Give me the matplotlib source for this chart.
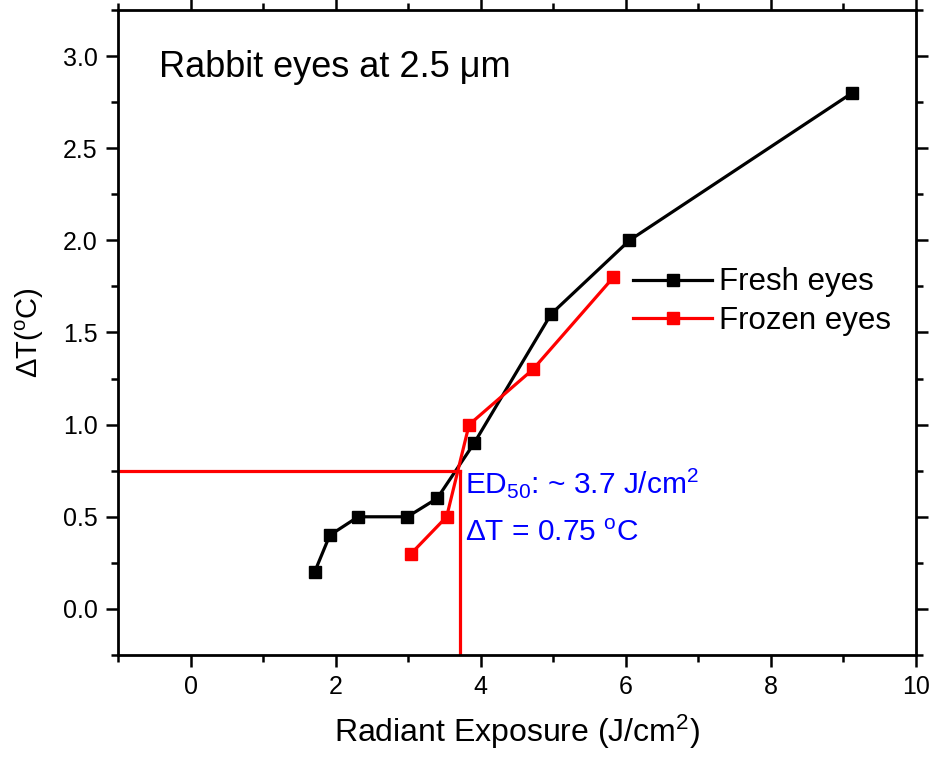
import matplotlib
matplotlib.use("Agg")
import matplotlib.pyplot as plt
from matplotlib.ticker import MultipleLocator

plt.rcParams['font.family'] = ['Liberation Sans', 'DejaVu Sans']
plt.rcParams['mathtext.fontset'] = 'custom'
plt.rcParams['mathtext.rm'] = 'Liberation Sans'
plt.rcParams['mathtext.it'] = 'Liberation Sans'

# data
fresh_x = [1.71, 1.92, 2.31, 2.99, 3.40, 3.91, 4.97, 6.05, 9.12]
fresh_y = [0.2, 0.4, 0.5, 0.5, 0.6, 0.9, 1.6, 2.0, 2.8]
frozen_x = [3.04, 3.53, 3.84, 4.72, 5.83]
frozen_y = [0.3, 0.5, 1.0, 1.3, 1.8]
ed50_x = 3.72
ed50_y = 0.75

fig = plt.figure(figsize=(9.32, 7.61), dpi=100)
ax = fig.add_axes([118/932, 1 - 655/761, 798/932, 645/761])

ax.plot(fresh_x, fresh_y, 'k-', marker='s', ms=9, lw=2.3, label='Fresh eyes')
ax.plot(frozen_x, frozen_y, '-', color='red', marker='s', ms=9, lw=2.3,
        label='Frozen eyes')

# ED50 guide lines
ax.plot([-1, ed50_x], [ed50_y, ed50_y], color='red', lw=2.3)
ax.plot([ed50_x, ed50_x], [ed50_y, -0.25], color='red', lw=2.3)

ax.text(3.78, 0.63, r'ED$_{50}$: ~ 3.7 J/cm$^2$', color='blue', fontsize=21.5)
ax.text(3.78, 0.37, r'$\Delta$T = 0.75 $^\mathrm{o}$C', color='blue', fontsize=21.5)
ax.text(-0.44, 2.886, 'Rabbit eyes at 2.5 \u03bcm', fontsize=26)

ax.set_xlim(-1, 10)
ax.set_ylim(-0.25, 3.25)
ax.xaxis.set_major_locator(MultipleLocator(2))
ax.xaxis.set_minor_locator(MultipleLocator(1))
ax.yaxis.set_major_locator(MultipleLocator(0.5))
ax.yaxis.set_minor_locator(MultipleLocator(0.25))
ax.yaxis.set_major_formatter(matplotlib.ticker.FormatStrFormatter('%.1f'))

ax.tick_params(which='both', direction='out', width=1.8, labelsize=18,
               top=True, right=True, pad=6)
ax.tick_params(which='major', length=8.5)
ax.tick_params(which='minor', length=5)
for s in ax.spines.values():
    s.set_linewidth(2)

ax.set_xlabel('Radiant Exposure (J/cm$^2$)', fontsize=23, labelpad=10)
ax.set_ylabel(r'$\Delta$T($^\mathrm{o}$C)', fontsize=21, labelpad=12)

ax.legend(loc='center left', bbox_to_anchor=(0.645, 0.548), frameon=False,
          fontsize=22.5, handlelength=2.55, handletextpad=0.22,
          labelspacing=0.26, borderpad=0, borderaxespad=0)

fig.savefig('out.png', dpi=100)
